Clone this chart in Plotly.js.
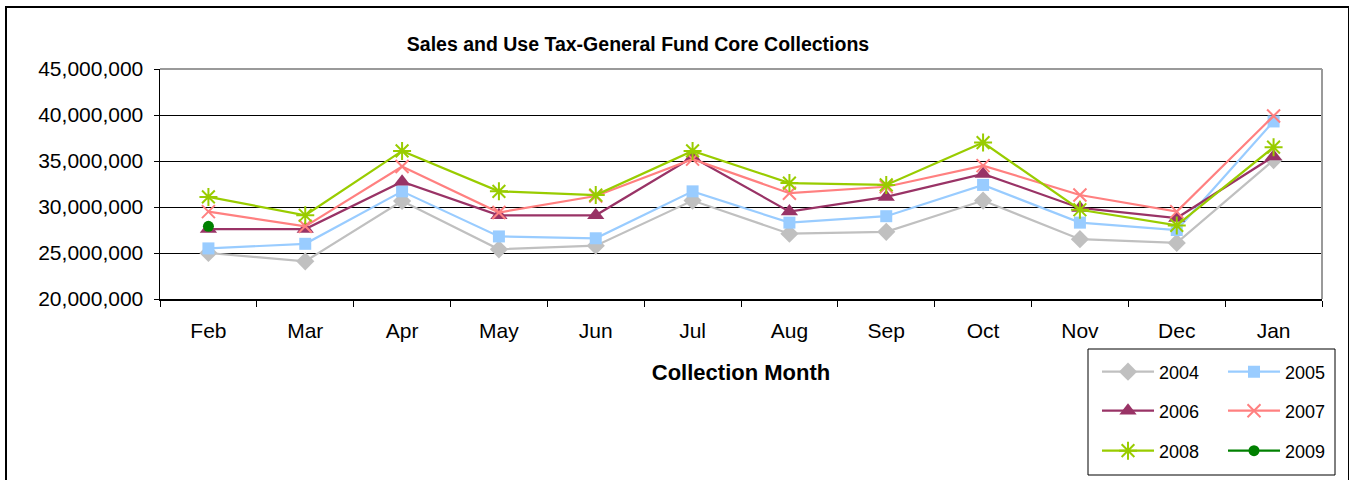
<!DOCTYPE html>
<html>
<head>
<meta charset="utf-8">
<script src="https://cdn.plot.ly/plotly-3.0.1.min.js"></script>
<style>
  html, body { margin: 0; padding: 0; background: #fff; }
  #wrap { position: relative; width: 1349px; height: 480px; overflow: hidden; }
  #chart { position: absolute; left: 0; top: 0; width: 1349px; height: 480px; }
  #frame { position: absolute; left: 5px; top: 6px; width: 1341px; height: 490px;
           border: 2px solid #000; pointer-events: none; }
</style>
</head>
<body>
<div id="wrap">
  <div id="chart"></div>
  <div id="frame"></div>
</div>
<script>
// ---- data ----
const months = ['Feb','Mar','Apr','May','Jun','Jul','Aug','Sep','Oct','Nov','Dec','Jan'];
const years = ['2004','2005','2006','2007','2008','2009'];
const y2004 = [25000000,24100000,30650000,25400000,25800000,30700000,27100000,27300000,30700000,26500000,26100000,35100000];
const y2005 = [25500000,26000000,31700000,26800000,26600000,31700000,28300000,29000000,32400000,28300000,27500000,39300000];
const y2006 = [27600000,27600000,32750000,29100000,29100000,35400000,29500000,31100000,33600000,29900000,28800000,35500000];
const y2007 = [29500000,27900000,34400000,29400000,31200000,35200000,31500000,32200000,34500000,31300000,29500000,39900000];
const y2008 = [31100000,29100000,36100000,31700000,31300000,36100000,32600000,32400000,37000000,29700000,28000000,36500000];
const y2009 = [27900000,null,null,null,null,null,null,null,null,null,null,null];
const yTicks = [20000000,25000000,30000000,35000000,40000000,45000000];
const yTickText = ['20,000,000','25,000,000','30,000,000','35,000,000','40,000,000','45,000,000'];

const FONT = 'Liberation Sans, Arial, sans-serif';

function tr(name, y, color, symbol, msize, legend, mline) {
  const marker = {symbol: symbol, size: msize, color: color};
  if (mline) marker.line = {color: color, width: mline};
  return {
    x: months, y: y, name: name, type: 'scatter', mode: 'lines+markers',
    line: {color: color, width: 2.2}, marker: marker, legend: legend,
    connectgaps: false
  };
}

const data = [
  tr(years[0], y2004, '#C0C0C0', 'diamond', 14, 'legend'),
  tr(years[1], y2005, '#99CCFF', 'square', 12, 'legend'),
  tr(years[2], y2006, '#993366', 'triangle-up', 15, 'legend2'),
  tr(years[3], y2007, '#FF8080', 'x-thin-open', 13, 'legend2', 2),
  tr(years[4], y2008, '#99CC00', 'asterisk-open', 15, 'legend3', 2),
  tr(years[5], y2009, '#008000', 'circle', 11, 'legend3')
];

const L = 160, R = 27, T = 69, B = 181;
const W = 1349 - L - R, H = 480 - T - B;
const px = v => (v - L) / W;
const py = v => (480 - B - v) / H;

function leg(yc) {
  return {
    orientation: 'h', x: px(1097), xanchor: 'left', y: py(yc), yanchor: 'middle',
    font: {family: FONT, size: 18, color: '#000'}, bgcolor: 'rgba(0,0,0,0)',
    borderwidth: 0, itemwidth: 52, entrywidth: 59, entrywidthmode: 'pixels',
    itemclick: false, itemdoubleclick: false
  };
}

const layout = {
  width: 1349, height: 480,
  margin: {l: L, r: R, t: T, b: B, autoexpand: false},
  paper_bgcolor: '#fff', plot_bgcolor: '#fff',
  font: {family: FONT, color: '#000', size: 21},
  showlegend: true,
  title: {
    text: 'Sales and Use Tax-General Fund Core Collections',
    font: {family: FONT, size: 19.5, weight: 'bold', color: '#000'},
    x: 638 / 1349, xanchor: 'center', xref: 'container',
    y: 1 - 44 / 480, yanchor: 'middle', yref: 'container'
  },
  xaxis: {
    type: 'category', categoryarray: months, range: [-0.5, 11.5],
    showline: true, linecolor: '#000', linewidth: 1.5,
    ticks: 'outside', tickson: 'boundaries', ticklen: 6, tickcolor: '#000', tickwidth: 1,
    showgrid: false, zeroline: false,
    tickfont: {family: FONT, size: 21, color: '#000'},
    ticklabelstandoff: 12,
    title: {text: 'Collection Month', font: {family: FONT, size: 22, weight: 'bold', color: '#000'}, standoff: 24},
    fixedrange: true
  },
  yaxis: {
    range: [20000000, 45000000], tickvals: yTicks, ticktext: yTickText,
    showline: true, linecolor: '#000', linewidth: 1.5,
    ticks: 'outside', ticklen: 5, tickcolor: '#000', tickwidth: 1,
    showgrid: true, gridcolor: '#000', gridwidth: 1, zeroline: false,
    tickfont: {family: FONT, size: 21, color: '#000'},
    ticklabelstandoff: 6,
    fixedrange: true
  },
  legend: leg(372),
  legend2: leg(411),
  legend3: leg(451),
  shapes: [
    {type: 'line', xref: 'paper', yref: 'paper', x0: 0, x1: 1, y0: 1, y1: 1,
     line: {color: '#9a9a9a', width: 2}, layer: 'above'},
    {type: 'line', xref: 'paper', yref: 'paper', x0: 1, x1: 1, y0: 0, y1: 1,
     line: {color: '#9a9a9a', width: 2}, layer: 'above'},
    {type: 'rect', xref: 'paper', yref: 'paper', x0: px(1088), x1: px(1335), y0: py(349), y1: py(475),
     line: {color: '#000', width: 1}, fillcolor: 'rgba(0,0,0,0)', layer: 'above'}
  ]
};

Plotly.newPlot('chart', data, layout, {displayModeBar: false, staticPlot: true});
</script>
</body>
</html>
